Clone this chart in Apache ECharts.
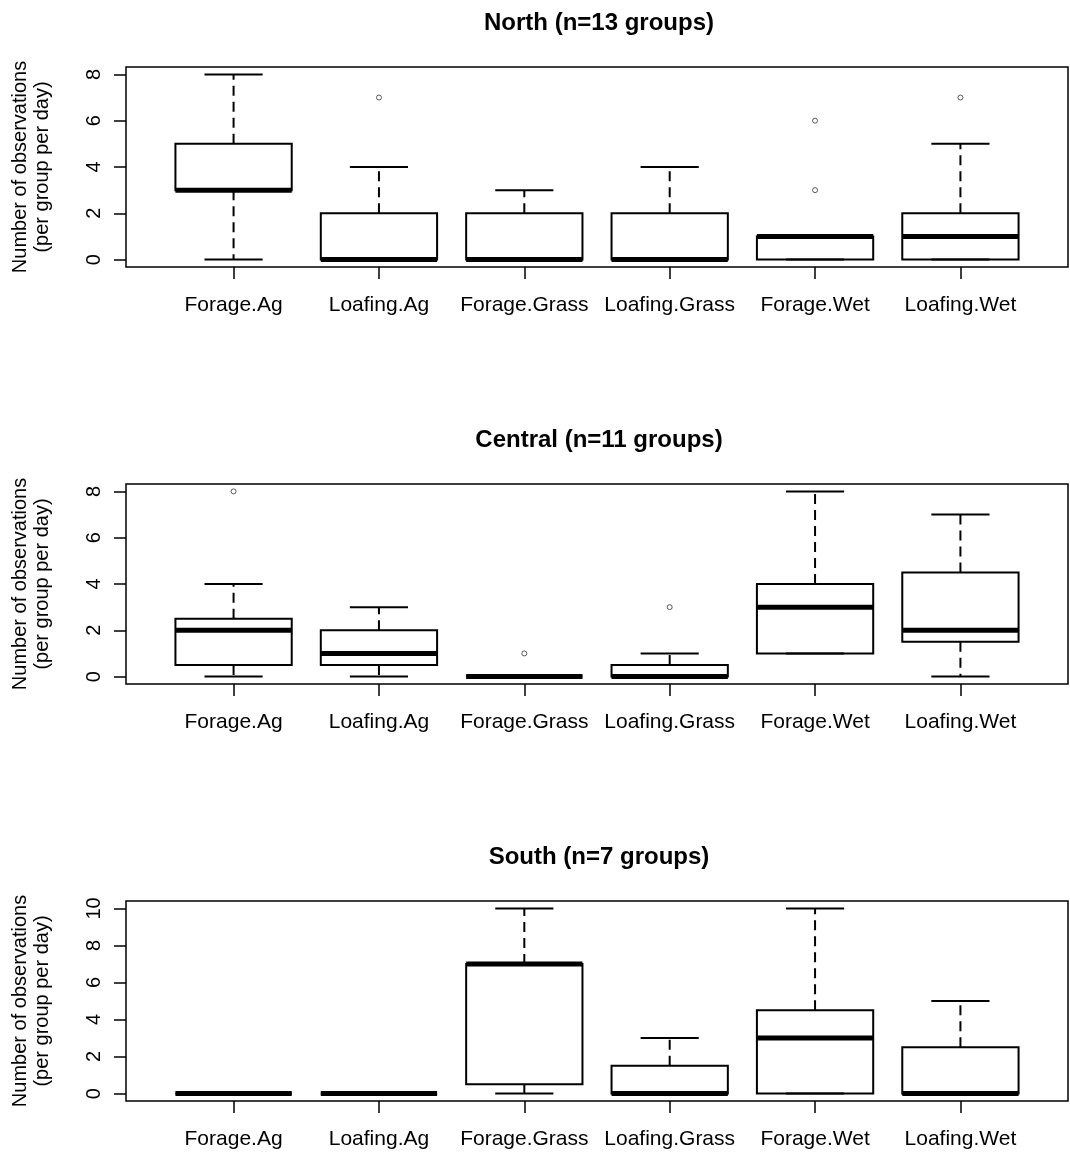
<!DOCTYPE html>
<html>
<head>
<meta charset="utf-8">
<script src="https://cdn.jsdelivr.net/npm/echarts@6/dist/echarts.min.js"></script>
<style>
html,body{margin:0;padding:0;background:#fff}
#c{width:1070px;height:1157px}
</style>
</head>
<body>
<div id="c"></div>
<script>
// ---- data ----
const categories = ['Forage.Ag', 'Loafing.Ag', 'Forage.Grass', 'Loafing.Grass', 'Forage.Wet', 'Loafing.Wet'];
const panelTitles = ['North (n=13 groups)', 'Central (n=11 groups)', 'South (n=7 groups)'];
const yAxisTitle = 'Number of observations\n(per group per day)';

// [lower whisker, Q1, median, Q3, upper whisker] per category
const northBoxes = [[0, 3, 3, 5, 8], [0, 0, 0, 2, 4], [0, 0, 0, 2, 3], [0, 0, 0, 2, 4], [0, 0, 1, 1, 1], [0, 0, 1, 2, 5]];
const centralBoxes = [[0, 0.5, 2, 2.5, 4], [0, 0.5, 1, 2, 3], [0, 0, 0, 0, 0], [0, 0, 0, 0.5, 1], [1, 1, 3, 4, 8], [0, 1.5, 2, 4.5, 7]];
const southBoxes = [[0, 0, 0, 0, 0], [0, 0, 0, 0, 0], [0, 0.5, 7, 7, 10], [0, 0, 0, 1.5, 3], [0, 0, 3, 4.5, 10], [0, 0, 0, 2.5, 5]];

// [category index, value]
const northOutliers = [[1, 7], [4, 3], [4, 6], [5, 7]];
const centralOutliers = [[0, 8], [2, 1], [3, 3]];
const southOutliers = [];

const northTicks = [0, 2, 4, 6, 8];
const centralTicks = [0, 2, 4, 6, 8];
const southTicks = [0, 2, 4, 6, 8, 10];

// ---- layout ----
const FONT = "'Liberation Sans', Arial, sans-serif";
const gridTops = [67, 484, 901];
const titleTops = [6, 423, 840];
const boxesList = [northBoxes, centralBoxes, southBoxes];
const outList = [northOutliers, centralOutliers, southOutliers];
const tickList = [northTicks, centralTicks, southTicks];
const catIdx = categories.map((c, i) => i);

const option = {
  backgroundColor: '#fff',
  animation: false,
  title: [],
  grid: [],
  xAxis: [],
  yAxis: [],
  series: []
};

for (let p = 0; p < 3; p++) {
  const ticks = tickList[p];
  const lo = ticks[0], hi = ticks[ticks.length - 1];
  const pad = (hi - lo) * 0.04;
  option.title.push({
    text: panelTitles[p],
    left: 594, top: titleTops[p], textAlign: 'center',
    textStyle: { fontFamily: FONT, fontSize: 24, fontWeight: 'bold', color: '#000' }
  });
  option.grid.push({
    left: 126, width: 942, top: gridTops[p], height: 200,
    show: true, borderColor: '#000', borderWidth: 1.5, backgroundColor: 'transparent'
  });
  option.xAxis.push({
    type: 'value', gridIndex: p, position: 'bottom',
    min: -0.74, max: categories.length - 1 + 0.74,
    axisLine: { show: false, onZero: false },
    splitLine: { show: false },
    axisTick: { show: true, customValues: catIdx, length: 12, lineStyle: { color: '#000', width: 1.5 } },
    axisLabel: {
      customValues: catIdx, margin: 28,
      formatter: v => categories[Math.round(v)],
      fontFamily: FONT, fontSize: 21, color: '#000'
    }
  });
  option.yAxis.push({
    type: 'value', gridIndex: p, position: 'left',
    min: lo - pad, max: hi + pad,
    axisLine: { show: false, onZero: false },
    splitLine: { show: false },
    axisTick: { show: true, customValues: ticks, length: 12, lineStyle: { color: '#000', width: 1.5 } },
    axisLabel: {
      customValues: ticks, rotate: 90, margin: 22,
      fontFamily: FONT, fontSize: 20, color: '#000'
    },
    name: yAxisTitle,
    nameLocation: 'middle', nameRotate: 90, nameGap: 73,
    nameTextStyle: { fontFamily: FONT, fontSize: 20, color: '#000', lineHeight: 22, align: 'center' }
  });
  option.series.push({
    type: 'custom', xAxisIndex: p, yAxisIndex: p,
    data: boxesList[p].map((b, i) => [i].concat(b)),
    encode: { x: 0, y: [1, 2, 3, 4, 5] },
    renderItem: function (params, api) {
      const i = api.value(0);
      const pMin = api.coord([i, api.value(1)]);
      const pQ1 = api.coord([i, api.value(2)]);
      const pMed = api.coord([i, api.value(3)]);
      const pQ3 = api.coord([i, api.value(4)]);
      const pMax = api.coord([i, api.value(5)]);
      const hw = api.size([0.4, 0])[0];
      const sw = api.size([0.2, 0])[0];
      const x = pMin[0];
      const thin = { stroke: '#000', lineWidth: 2, fill: null };
      const dashed = { stroke: '#000', lineWidth: 2, lineDash: [10, 6], fill: null };
      return {
        type: 'group',
        children: [
          { type: 'line', shape: { x1: x, y1: pQ3[1], x2: x, y2: pMax[1] }, style: dashed },
          { type: 'line', shape: { x1: x, y1: pQ1[1], x2: x, y2: pMin[1] }, style: dashed },
          { type: 'line', shape: { x1: x - sw, y1: pMax[1], x2: x + sw, y2: pMax[1] }, style: thin },
          { type: 'line', shape: { x1: x - sw, y1: pMin[1], x2: x + sw, y2: pMin[1] }, style: thin },
          { type: 'rect', shape: { x: x - hw, y: pQ3[1], width: 2 * hw, height: pQ1[1] - pQ3[1] }, style: { stroke: '#000', lineWidth: 2, fill: 'rgba(0,0,0,0)' } },
          { type: 'line', shape: { x1: x - hw, y1: pMed[1], x2: x + hw, y2: pMed[1] }, style: { stroke: '#000', lineWidth: 5, lineCap: 'butt' } }
        ]
      };
    }
  });
  option.series.push({
    type: 'scatter', xAxisIndex: p, yAxisIndex: p,
    data: outList[p],
    symbol: 'circle', symbolSize: 5,
    itemStyle: { color: '#fff', borderColor: '#333', borderWidth: 1 }
  });
}

const chart = echarts.init(document.getElementById('c'), null, { renderer: 'canvas' });
chart.setOption(option);
</script>
</body>
</html>
